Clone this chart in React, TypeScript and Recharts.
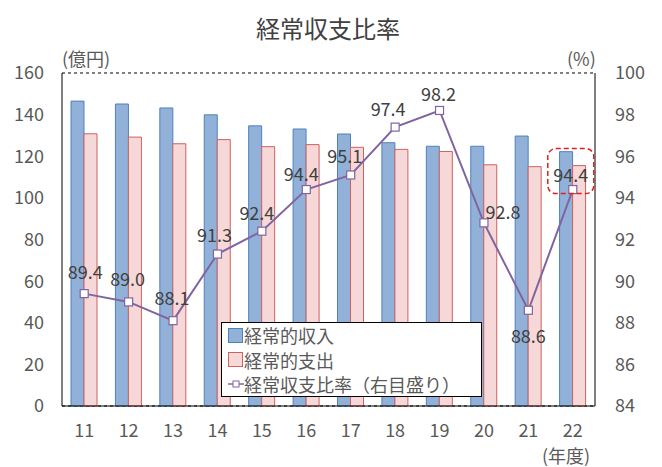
import React from 'react';
import {
  ComposedChart,
  Bar,
  Line,
  XAxis,
  YAxis,
  CartesianGrid,
  LabelList,
} from 'recharts';

const years = ['11', '12', '13', '14', '15', '16', '17', '18', '19', '20', '21', '22'];
const income = [146.5, 145.1, 143.2, 139.9, 134.6, 133.1, 130.7, 126.5, 124.8, 124.8, 129.7, 122.2];
const expense = [130.8, 129.2, 126.0, 128.0, 124.6, 125.6, 124.3, 123.3, 122.3, 115.9, 115.0, 115.5];
const ratio = [89.4, 89.0, 88.1, 91.3, 92.4, 94.4, 95.1, 97.4, 98.2, 92.8, 88.6, 94.4];
const leftTicks = [0, 20, 40, 60, 80, 100, 120, 140, 160];
const rightTicks = [84, 86, 88, 90, 92, 94, 96, 98, 100];

// ラベル位置の微調整（点からのずれ）
const labelShift = [
  [1, -23], [-1, -24], [-1, -24], [-3, -20], [-5, -19], [-5, -17],
  [-6, -20], [-7, -19], [-1, -17], [19, -12], [0, 25], [-2, -16],
];

const data = years.map((y, i) => ({
  year: y,
  income: income[i],
  expense: expense[i],
  ratio: ratio[i],
}));

const FONT = '"Noto Sans CJK JP", "Noto Sans", sans-serif';
const TEXT = '#595959';

const SquareDot = (props: any) => {
  const { cx, cy } = props;
  if (cx == null || cy == null) return null;
  return <rect x={cx - 4} y={cy - 4} width={8} height={8} fill="#fff" stroke="#8064a2" strokeWidth={1.2} />;
};

const RatioLabel = (props: any) => {
  const { x, y, value, index } = props;
  const [dx, dy] = labelShift[index];
  return (
    <g>
      {index === years.length - 1 && (
        <rect
          x={x - 25}
          y={y - 41}
          width={46}
          height={45}
          rx={8}
          fill="none"
          stroke="#e02020"
          strokeWidth={1.5}
          strokeDasharray="5 3"
        />
      )}
      <text
        x={x + dx}
        y={y + dy}
        textAnchor="middle"
        dominantBaseline="central"
        fontSize={18}
        fill="#404040"
        fontFamily={FONT}
      >
        {Number(value).toFixed(1)}
      </text>
    </g>
  );
};

const legendItems = [
  { name: '経常的収入', fill: '#92b1d9', stroke: '#4f81bd', kind: 'bar' },
  { name: '経常的支出', fill: '#f5d8d7', stroke: '#d0615e', kind: 'bar' },
  { name: '経常収支比率（右目盛り）', fill: '#fff', stroke: '#8064a2', kind: 'line' },
];

const tickStyle = { fill: TEXT, fontSize: 18, fontFamily: FONT };

export default function App() {
  return (
    <div style={{ position: 'absolute', left: 0, top: 0, width: 662, height: 467, background: '#fff', fontFamily: FONT }}>
      <div style={{ position: 'absolute', left: 0, top: 11, width: 656, textAlign: 'center', fontSize: 24, lineHeight: '34px', color: '#404040' }}>
        経常収支比率
      </div>
      <div style={{ position: 'absolute', left: 62, top: 45, fontSize: 18, lineHeight: '26px', color: TEXT }}>(億円)</div>
      <div style={{ position: 'absolute', left: 567, top: 45, fontSize: 18, lineHeight: '26px', color: TEXT }}>(%)</div>
      <div style={{ position: 'absolute', left: 542, top: 442, fontSize: 18, lineHeight: '26px', color: TEXT }}>(年度)</div>

      <ComposedChart
        width={662}
        height={467}
        data={data}
        margin={{ top: 73, right: 0, left: 0, bottom: 0 }}
        barGap={0}
        barSize={13}
      >
        <CartesianGrid vertical={false} stroke="#000" strokeDasharray="3 3" strokeWidth={1} />
        <XAxis
          dataKey="year"
          height={61}
          axisLine={{ stroke: '#000' }}
          tickLine={false}
          tick={tickStyle}
          tickMargin={12}
        />
        <YAxis
          yAxisId="left"
          width={62}
          domain={[0, 160]}
          ticks={leftTicks}
          axisLine={{ stroke: '#000' }}
          tickLine={false}
          tick={tickStyle}
          tickMargin={12}
        />
        <YAxis
          yAxisId="right"
          orientation="right"
          width={67}
          domain={[84, 100]}
          ticks={rightTicks}
          axisLine={{ stroke: '#000' }}
          tickLine={false}
          tick={tickStyle}
          tickMargin={14}
        />
        <Bar yAxisId="left" dataKey="income" fill="#92b1d9" stroke="#4f81bd" strokeWidth={1} isAnimationActive={false} />
        <Bar yAxisId="left" dataKey="expense" fill="#f5d8d7" stroke="#d0615e" strokeWidth={1} isAnimationActive={false} />
        <Line
          yAxisId="right"
          dataKey="ratio"
          type="linear"
          stroke="#8064a2"
          strokeWidth={2}
          dot={<SquareDot />}
          activeDot={false}
          isAnimationActive={false}
        >
          <LabelList dataKey="ratio" content={<RatioLabel />} />
        </Line>
      </ComposedChart>

      <div
        style={{
          position: 'absolute',
          left: 221,
          top: 322,
          width: 261,
          height: 75,
          border: '1px solid #000',
          background: '#fff',
          boxSizing: 'border-box',
          padding: '0 0 0 6px',
        }}
      >
        {legendItems.map((it) => (
          <div key={it.name} style={{ display: 'flex', alignItems: 'center', height: 24.5, fontSize: 18, color: TEXT, whiteSpace: 'nowrap' }}>
            {it.kind === 'bar' ? (
              <span style={{ width: 15, height: 15, background: it.fill, border: `1px solid ${it.stroke}`, boxSizing: 'border-box', marginRight: 1 }} />
            ) : (
              <svg width={16} height={14}>
                <line x1={0} y1={7} x2={16} y2={7} stroke={it.stroke} strokeWidth={1.5} />
                <rect x={5} y={4} width={6} height={6} fill="#fff" stroke={it.stroke} />
              </svg>
            )}
            <span>{it.name}</span>
          </div>
        ))}
      </div>
    </div>
  );
}
